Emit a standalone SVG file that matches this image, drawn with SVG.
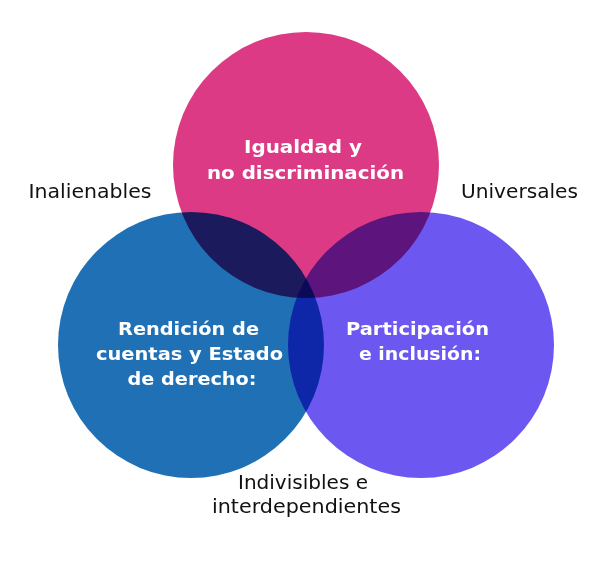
<svg xmlns="http://www.w3.org/2000/svg" width="607" height="561" viewBox="0 0 607 561">
<style>
.c{mix-blend-mode:multiply}
.t{font-family:"DejaVu Sans",Inter,sans-serif;font-weight:700;font-size:18.5px;fill:#fff;text-anchor:middle}
.l{font-family:"DejaVu Sans",Inter,sans-serif;font-weight:400;font-size:19.5px;fill:#111;text-anchor:middle}
</style>
<rect width="607" height="561" fill="#fff"/>
<g style="isolation:isolate">
<g id="node-igualdad"><circle class="c" cx="306" cy="165" r="133" fill="#DC3A84"/></g>
<g id="node-rendicion"><circle class="c" cx="191" cy="345" r="133" fill="#1F70B4"/></g>
<g id="node-participacion"><circle class="c" cx="421" cy="345" r="133" fill="#6C57F0"/></g>
</g>
<g id="connectors"></g>
<g id="labels-igualdad"><text class="t" x="303" y="153" textLength="118" lengthAdjust="spacingAndGlyphs">Igualdad y</text><text class="t" x="305.5" y="179" textLength="197" lengthAdjust="spacingAndGlyphs">no discriminación</text></g>
<g id="labels-rendicion"><text class="t" x="188.5" y="335" textLength="141" lengthAdjust="spacingAndGlyphs">Rendición de</text><text class="t" x="189.5" y="360" textLength="187" lengthAdjust="spacingAndGlyphs">cuentas y Estado</text><text class="t" x="192" y="385" textLength="129" lengthAdjust="spacingAndGlyphs">de derecho:</text></g>
<g id="labels-participacion"><text class="t" x="417.5" y="335" textLength="143" lengthAdjust="spacingAndGlyphs">Participación</text><text class="t" x="420" y="360" textLength="122" lengthAdjust="spacingAndGlyphs">e inclusión:</text></g>
<g id="label-inalienables"><text class="l" x="90" y="198" textLength="123" lengthAdjust="spacingAndGlyphs">Inalienables</text></g>
<g id="label-universales"><text class="l" x="519.5" y="198" textLength="117" lengthAdjust="spacingAndGlyphs">Universales</text></g>
<g id="label-indivisibles"><text class="l" x="303" y="489" textLength="130" lengthAdjust="spacingAndGlyphs">Indivisibles e</text><text class="l" x="306.5" y="513" textLength="189" lengthAdjust="spacingAndGlyphs">interdependientes</text></g>
</svg>
